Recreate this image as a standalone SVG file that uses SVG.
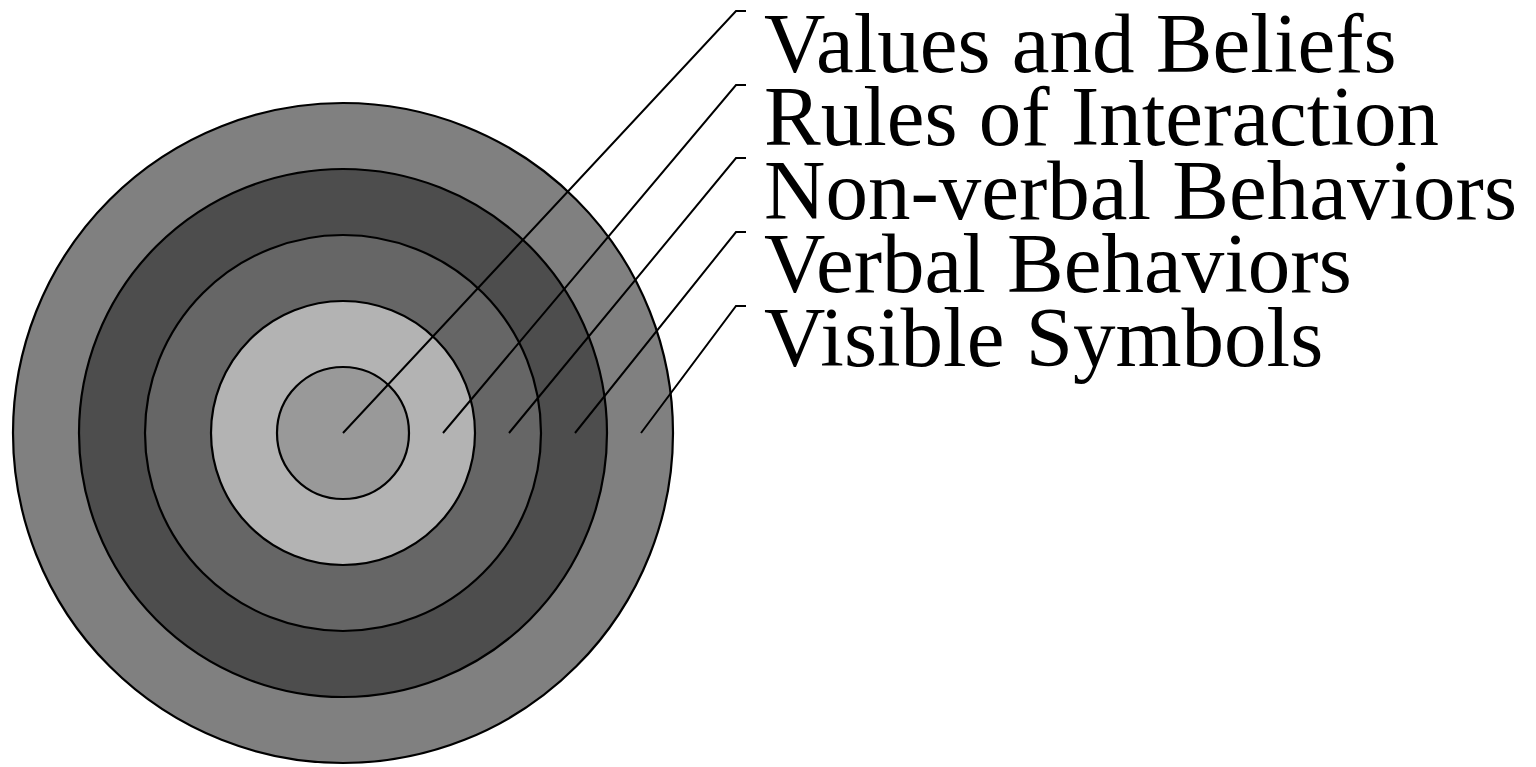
<svg xmlns="http://www.w3.org/2000/svg" width="1536" height="767" viewBox="0 0 1536 767">
<style>
.ring{stroke:#000;stroke-width:2.2}
.lead{fill:none;stroke:#000;stroke-width:2}
.lbl{font-family:"Liberation Serif","Times New Roman",serif;font-size:85px;fill:#000}
</style>
<rect width="1536" height="767" fill="#fff"/>
<g id="visible-symbols"><circle class="ring" cx="343" cy="433" r="330" fill="#808080"/></g>
<g id="verbal-behaviors"><circle class="ring" cx="343" cy="433" r="264" fill="#4d4d4d"/></g>
<g id="non-verbal-behaviors"><circle class="ring" cx="343" cy="433" r="198" fill="#666666"/></g>
<g id="rules-of-interaction"><circle class="ring" cx="343" cy="433" r="132" fill="#b3b3b3"/></g>
<g id="values-and-beliefs"><circle class="ring" cx="343" cy="433" r="66" fill="#999999"/></g>
<g id="connectors">
<polyline class="lead" points="343,433 736,11 746,11"/>
<polyline class="lead" points="443,433 736,85 746,85"/>
<polyline class="lead" points="509,433 736,158 746,158"/>
<polyline class="lead" points="575,433 736,232 746,232"/>
<polyline class="lead" points="641,433 736,306 746,306"/>
</g>
<g id="labels">
<text class="lbl" x="764" y="72">Values and Beliefs</text>
<text class="lbl" x="764" y="145">Rules of Interaction</text>
<text class="lbl" x="764" y="219">Non-verbal Behaviors</text>
<text class="lbl" x="764" y="292">Verbal Behaviors</text>
<text class="lbl" x="764" y="366">Visible Symbols</text>
</g>
</svg>
